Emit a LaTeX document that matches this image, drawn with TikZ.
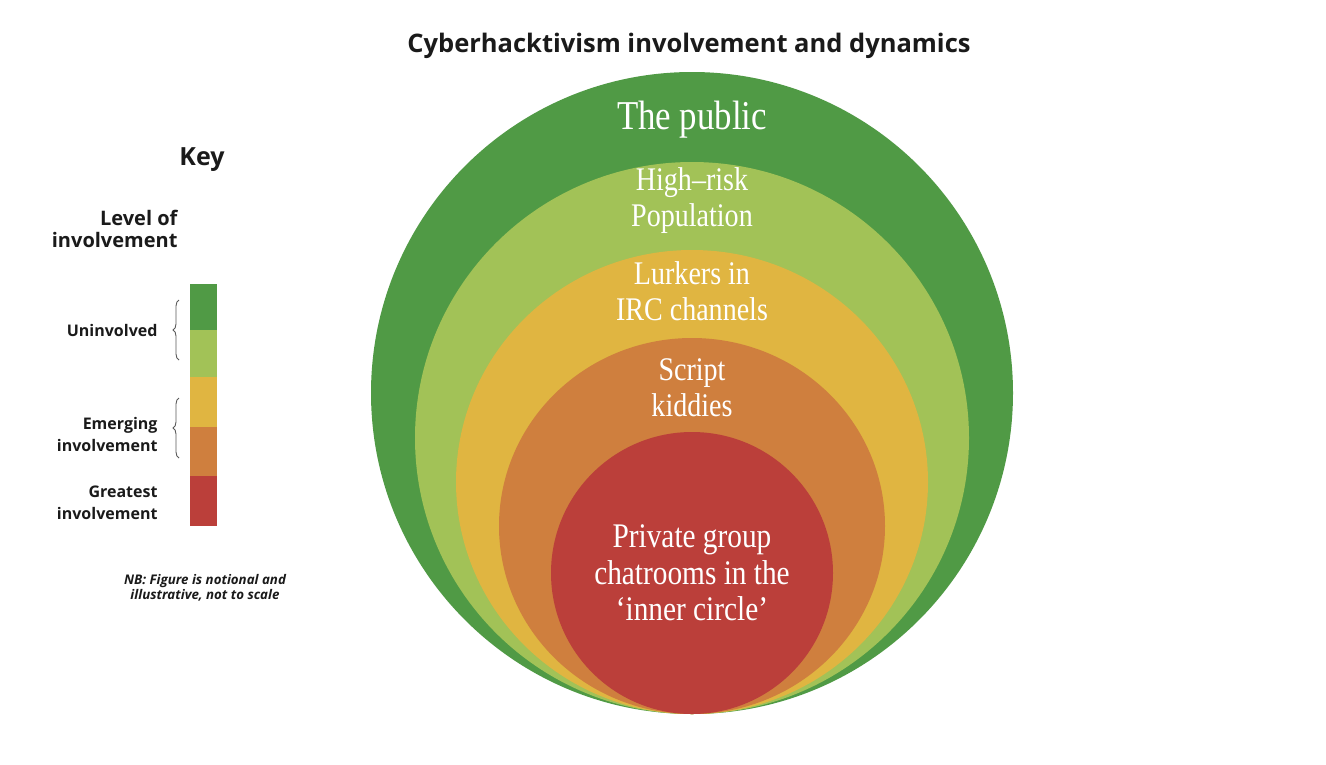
\documentclass[tikz,border=0pt]{standalone}
\usepackage{fontspec}
\setmainfont{Open Sans}
\newfontfamily\circfont[FakeStretch=0.85]{Liberation Serif}
\usetikzlibrary{decorations.pathreplacing}
\definecolor{dkgreen}{HTML}{509A45}
\definecolor{ltgreen}{HTML}{A2C257}
\definecolor{ringyellow}{HTML}{E0B541}
\definecolor{ringorange}{HTML}{CF7F3E}
\definecolor{ringred}{HTML}{BB3F3A}
\definecolor{inkc}{HTML}{1A1A1A}
\begin{document}
\begin{tikzpicture}[x=1pt,y=-1pt,
  lbl/.style={text=white, font=\circfont\fontsize{33}{36}\selectfont, align=center},
  keytxt/.style={font=\bfseries\fontsize{16}{22}\selectfont, align=right, anchor=east, text=inkc},
  bracestyle/.style={decorate, decoration={brace, amplitude=6pt}, draw=black!65, line width=0.9pt},
  keycell/.style={fill=#1}]
\fill[white] (0,0) rectangle (1326,764);
\useasboundingbox (0,0) rectangle (1326,764);

% rings
\fill[dkgreen] (692,393) ellipse [x radius=321, y radius=321];
\fill[ltgreen] (692,438) ellipse [x radius=277, y radius=276];
\fill[ringyellow] (692,482) ellipse [x radius=236, y radius=232];
\fill[ringorange] (692,526) ellipse [x radius=193, y radius=188];
\fill[ringred] (692,573) ellipse [x radius=141, y radius=141];

% ring labels
\node[lbl, font=\circfont\fontsize{41}{44}\selectfont] (pub) at (692,120) {The public};
\node[lbl] (hr) at (692,201) {High–risk\\Population};
\node[lbl] (lurk) at (692,291) {Lurkers in\\IRC channels};
\node[lbl] (script) at (692,388) {Script\\kiddies};
\node[lbl, font=\circfont\fontsize{34.5}{36.5}\selectfont] (priv) at (692,573) {Private group\\chatrooms in the\\‘inner circle’};

% title
\node[font=\bfseries\fontsize{25.5}{28}\selectfont, text=inkc] (title) at (689,46) {Cyberhacktivism involvement and dynamics};

% key
\node[font=\bfseries\fontsize{25}{28}\selectfont, text=inkc] (key) at (202,160) {Key};
\node[keytxt, font=\bfseries\fontsize{20}{22}\selectfont] (lvl) at (181,229) {Level of\\involvement};

\fill[keycell=dkgreen] (190,284) rectangle (217,330);
\fill[keycell=ltgreen] (190,330) rectangle (217,377);
\fill[keycell=ringyellow] (190,377) rectangle (217,427);
\fill[keycell=ringorange] (190,427) rectangle (217,476);
\fill[keycell=ringred] (190,476) rectangle (217,526);

\coordinate (b1s) at (179,360);
\coordinate (b1e) at (179,300);
\coordinate (b2s) at (179,458);
\coordinate (b2e) at (179,398);
\draw[bracestyle] (b1s) -- (b1e);
\draw[bracestyle] (b2s) -- (b2e);

\node[keytxt] (unin) at (161,330) {Uninvolved};
\node[keytxt] (emer) at (161,434) {Emerging\\involvement};
\node[keytxt] (great) at (161,503) {Greatest\\involvement};

\node[font=\bfseries\itshape\fontsize{13.3}{15}\selectfont, align=center, text=inkc] (nb) at (205,588) {NB: Figure is notional and\\illustrative, not to scale};
\end{tikzpicture}
\end{document}
